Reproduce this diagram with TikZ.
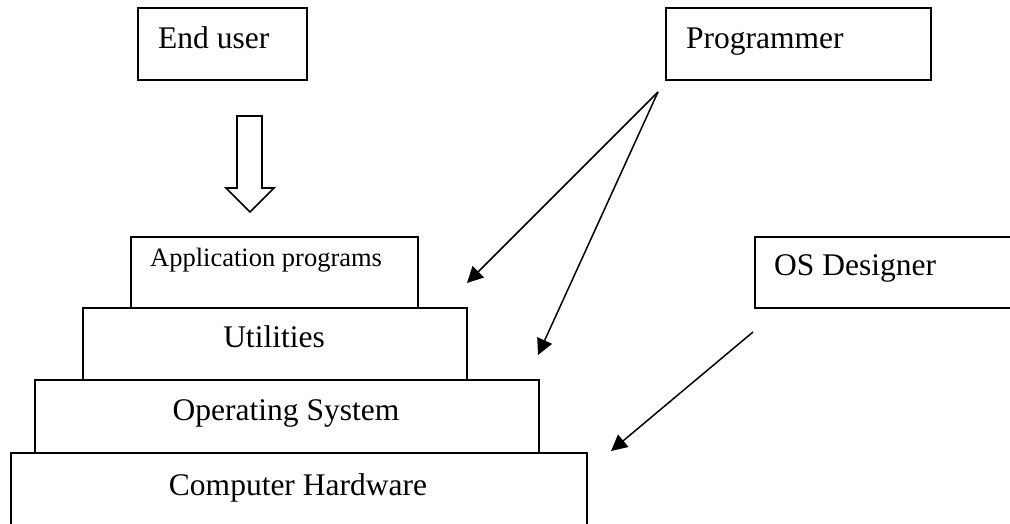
\documentclass[tikz,border=0pt]{standalone}
\usepackage{fontspec}
\setmainfont{Liberation Serif}
\usetikzlibrary{arrows.meta}
\begin{document}
\begin{tikzpicture}[x=1pt,y=-1pt,
  box/.style={draw, line width=2pt, rectangle, inner sep=0pt, anchor=north west},
  big/.style={font=\fontsize{31.5}{36}\selectfont, inner sep=0pt},
  small/.style={font=\fontsize{26.5}{30}\selectfont, inner sep=0pt},
  conn/.style={line width=1.5pt, -{Triangle[length=16pt,width=16pt]}},
  blockarrow/.style={draw, line width=1.6pt, fill=white, line join=miter}]
\useasboundingbox (0,0) rectangle (1010,523);
\clip (0,0) rectangle (1010,523);

% boxes
\node[box, minimum width=169pt, minimum height=72pt] (eu) at (137,7) {};
\node[box, minimum width=265pt, minimum height=72pt] (prog) at (665,7) {};
\node[box, minimum width=300pt, minimum height=71pt] (osd) at (754,236) {};
\node[box, minimum width=287pt, minimum height=71pt] (app) at (130,236) {};
\node[box, minimum width=384pt, minimum height=72pt] (util) at (82,307) {};
\node[box, minimum width=504pt, minimum height=73pt] (os) at (34,379) {};
\node[box, minimum width=576pt, minimum height=120pt] (hw) at (10,452) {};

% labels
\node[big, anchor=base west] (eutxt) at (158,48) {End user};
\node[big, anchor=base west] (progtxt) at (686,48) {Programmer};
\node[big, anchor=base west] (osdtxt) at (774,275) {OS Designer};
\node[small, anchor=base west] (apptxt) at (150,266) {Application programs};
\node[big, anchor=base] (utiltxt) at (274,347) {Utilities};
\node[big, anchor=base] (ostxt) at (286,420) {Operating System};
\node[big, anchor=base] (hwtxt) at (298,495) {Computer Hardware};

% block arrow from End user down to the stack
\path[blockarrow] (237,116) -- (262,116) -- (262,188) -- (274,188) -- (250,212)
  -- (226,188) -- (237,188) -- cycle;

% connectors
\coordinate (p0) at (658,92);
\coordinate (t1) at (467,283);
\coordinate (t2) at (538,355);
\coordinate (d0) at (753,332);
\coordinate (t3) at (611,451);
\draw[conn] (p0) -- (t1);
\draw[conn] (p0) -- (t2);
\draw[conn] (d0) -- (t3);
\end{tikzpicture}
\end{document}
